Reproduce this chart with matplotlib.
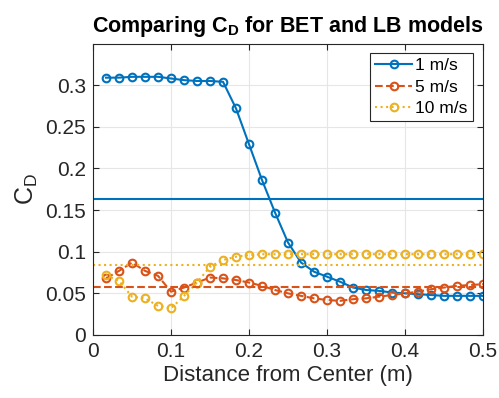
import matplotlib
matplotlib.use("Agg")
import matplotlib.pyplot as plt
import numpy as np

plt.rcParams['font.family'] = ['Liberation Sans', 'DejaVu Sans']
plt.rcParams['mathtext.fontset'] = 'custom'
plt.rcParams['mathtext.rm'] = 'Liberation Sans'
plt.rcParams['mathtext.it'] = 'Liberation Sans:italic'
plt.rcParams['mathtext.bf'] = 'Liberation Sans:bold'

# Data
x = [k / 60 for k in range(1, 31)]
cd_1 = [0.309, 0.309, 0.310, 0.310, 0.310, 0.308, 0.306, 0.305, 0.305, 0.304,
        0.272, 0.229, 0.186, 0.147, 0.111, 0.087, 0.076, 0.070, 0.064, 0.057,
        0.054, 0.053, 0.051, 0.050, 0.049, 0.048, 0.047, 0.047, 0.047, 0.047]
cd_5 = [0.068, 0.077, 0.087, 0.077, 0.071, 0.052, 0.057, 0.063, 0.069, 0.068,
        0.066, 0.063, 0.059, 0.054, 0.050, 0.047, 0.044, 0.042, 0.041, 0.043,
        0.044, 0.046, 0.048, 0.050, 0.052, 0.055, 0.057, 0.059, 0.060, 0.061]
cd_10 = [0.072, 0.065, 0.046, 0.044, 0.035, 0.032, 0.047, 0.063, 0.082, 0.090,
         0.094, 0.096, 0.097, 0.097, 0.097, 0.097, 0.097, 0.097, 0.097, 0.097,
         0.097, 0.097, 0.097, 0.097, 0.097, 0.097, 0.097, 0.097, 0.097, 0.097]
lb_means = [0.163, 0.058, 0.084]
labels = ['1 m/s', '5 m/s', '10 m/s']
colors = ['#0072BD', '#D95319', '#EDB120']
styles = ['-', '--', ':']

fig = plt.figure(figsize=(4.99, 3.98), dpi=100)
ax = fig.add_axes([0.1864, 0.1583, 0.7816, 0.7324])

for y, mean, lab, c, ls in zip([cd_1, cd_5, cd_10], lb_means, labels, colors, styles):
    ax.plot(x, y, linestyle=ls, color=c, marker='o', markersize=5.5,
            markerfacecolor='none', markeredgewidth=1.5, linewidth=1.5, label=lab)
for mean, c, ls in zip(lb_means, colors, styles):
    ax.axhline(mean, color=c, linestyle=ls, linewidth=1.5)

ax.set_xlim(0, 0.5)
ax.set_ylim(0, 0.35)
ax.set_xticks([0, 0.1, 0.2, 0.3, 0.4, 0.5])
ax.set_xticklabels(['0', '0.1', '0.2', '0.3', '0.4', '0.5'])
ax.set_yticks([0, 0.05, 0.1, 0.15, 0.2, 0.25, 0.3])
ax.set_yticklabels(['0', '0.05', '0.1', '0.15', '0.2', '0.25', '0.3'])
ax.grid(True, color='#e6e6e6', linewidth=0.8)
ax.set_axisbelow(True)
ax.tick_params(direction='in', top=True, right=True, labelsize=15,
               colors='#262626', length=4, width=0.8, pad=5)
for s in ax.spines.values():
    s.set_color('#262626')
    s.set_linewidth(0.8)

ax.set_xlabel('Distance from Center (m)', fontsize=16, color='#262626', labelpad=3)
ax.set_ylabel(r'C$_\mathrm{D}$', fontsize=18, color='#262626', labelpad=4)
ax.set_title(r'Comparing C$_\mathbf{D}$ for BET and LB models', fontsize=15.5,
             fontweight='bold', pad=8)

leg = ax.legend(loc='upper right', fontsize=12.5, frameon=True, fancybox=False,
                edgecolor='#262626', framealpha=1, handlelength=2.1,
                borderpad=0.3, labelspacing=0.35, handletextpad=0.2,
                borderaxespad=0.0, bbox_to_anchor=(0.974, 0.967))
leg.get_frame().set_linewidth(0.8)

fig.savefig('out.png', dpi=100)
